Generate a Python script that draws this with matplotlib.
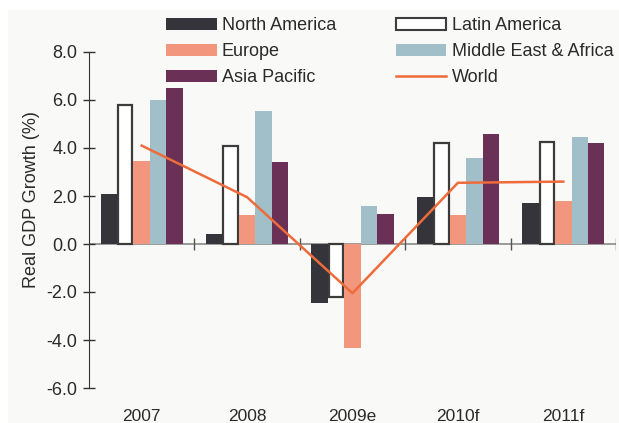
import matplotlib.pyplot as plt
from matplotlib.patches import Patch, Rectangle
from matplotlib.lines import Line2D
import numpy as np

plt.rcParams['font.family'] = ['Liberation Sans', 'DejaVu Sans']

years = ['2007', '2008', '2009e', '2010f', '2011f']
north_america = [2.1, 0.4, -2.45, 1.95, 1.7]
latin_america = [5.8, 4.1, -2.2, 4.2, 4.25]
europe = [3.45, 1.2, -4.35, 1.2, 1.8]
middle_east_africa = [6.0, 5.55, 1.6, 3.6, 4.45]
asia_pacific = [6.5, 3.4, 1.25, 4.6, 4.2]
world = [4.1, 1.95, -2.05, 2.55, 2.6]

c_na = '#35343a'
c_eu = '#f2977d'
c_mea = '#a0bfc8'
c_ap = '#6a3055'
c_world = '#ee6b3b'
bg = '#f9f9f7'
txt = '#2a2a2a'

fig = plt.figure(figsize=(6.19, 4.23), dpi=100, facecolor='white')
fig.patches.append(Rectangle((8 / 619, 0), 1, 1 - 10 / 423, transform=fig.transFigure,
                             facecolor=bg, edgecolor='none', zorder=-10))
ax = fig.add_axes([89 / 619, 1 - 388 / 423, 527 / 619, 336 / 423])
ax.patch.set_alpha(0)

x = np.arange(len(years))
w = 0.156
offs = np.array([-2, -1, 0, 1, 2]) * w

ax.bar(x + offs[0], north_america, w, color=c_na, zorder=2)
ax.bar(x + offs[1], latin_america, w - 0.02, color='white', edgecolor='#3c3c3c',
       linewidth=1.6, zorder=2)
ax.bar(x + offs[2], europe, w, color=c_eu, zorder=2)
ax.bar(x + offs[3], middle_east_africa, w, color=c_mea, zorder=2)
ax.bar(x + offs[4], asia_pacific, w, color=c_ap, zorder=2)
ax.plot(x, world, color=c_world, linewidth=1.8, zorder=3)

# zero line with group separators
ax.axhline(0, color='#8a8a8a', linewidth=1.2, zorder=1)
ax.vlines(np.arange(0.5, len(years)), -0.25, 0.25, color='#555555', linewidth=1, zorder=1)

ax.set_xlim(-0.5, len(years) - 0.5)
ax.set_ylim(-6, 8)
ax.set_yticks(np.arange(-6, 9, 2))
ax.set_yticklabels([f'{v:.1f}' for v in np.arange(-6, 9, 2)])
ax.set_xticks(x)
ax.set_xticklabels(years)
ax.tick_params(axis='x', length=0, pad=15, labelsize=12.5, colors=txt)
ax.tick_params(axis='y', direction='inout', length=9, width=1, labelsize=13,
               colors='#333333', labelcolor=txt, pad=4)
for s in ['top', 'right', 'bottom']:
    ax.spines[s].set_visible(False)
ax.spines['left'].set_color('#333333')
ax.set_ylabel('Real GDP Growth (%)', fontsize=13, color=txt)
ax.yaxis.set_label_coords(-0.093, 0.56)

# legend fills column-wise, so list entries in column order
handles = [
    Patch(facecolor=c_na, edgecolor='none', label='North America'),
    Patch(facecolor=c_eu, edgecolor='none', label='Europe'),
    Patch(facecolor=c_ap, edgecolor='none', label='Asia Pacific'),
    Patch(facecolor='white', edgecolor='#3c3c3c', linewidth=1.5, label='Latin America'),
    Patch(facecolor=c_mea, edgecolor='none', label='Middle East & Africa'),
    Line2D([0], [0], color=c_world, linewidth=1.8, label='World'),
]
fig.legend(handles=handles, ncol=2, loc='upper left', bbox_to_anchor=(166 / 619, 1 - 17 / 423),
           frameon=False, fontsize=13, handlelength=2.8, handleheight=0.65,
           handletextpad=0.3, columnspacing=3.3, labelspacing=0.5, borderaxespad=0,
           borderpad=0, labelcolor=txt)

fig.savefig('out.png', dpi=100, facecolor=fig.get_facecolor())
